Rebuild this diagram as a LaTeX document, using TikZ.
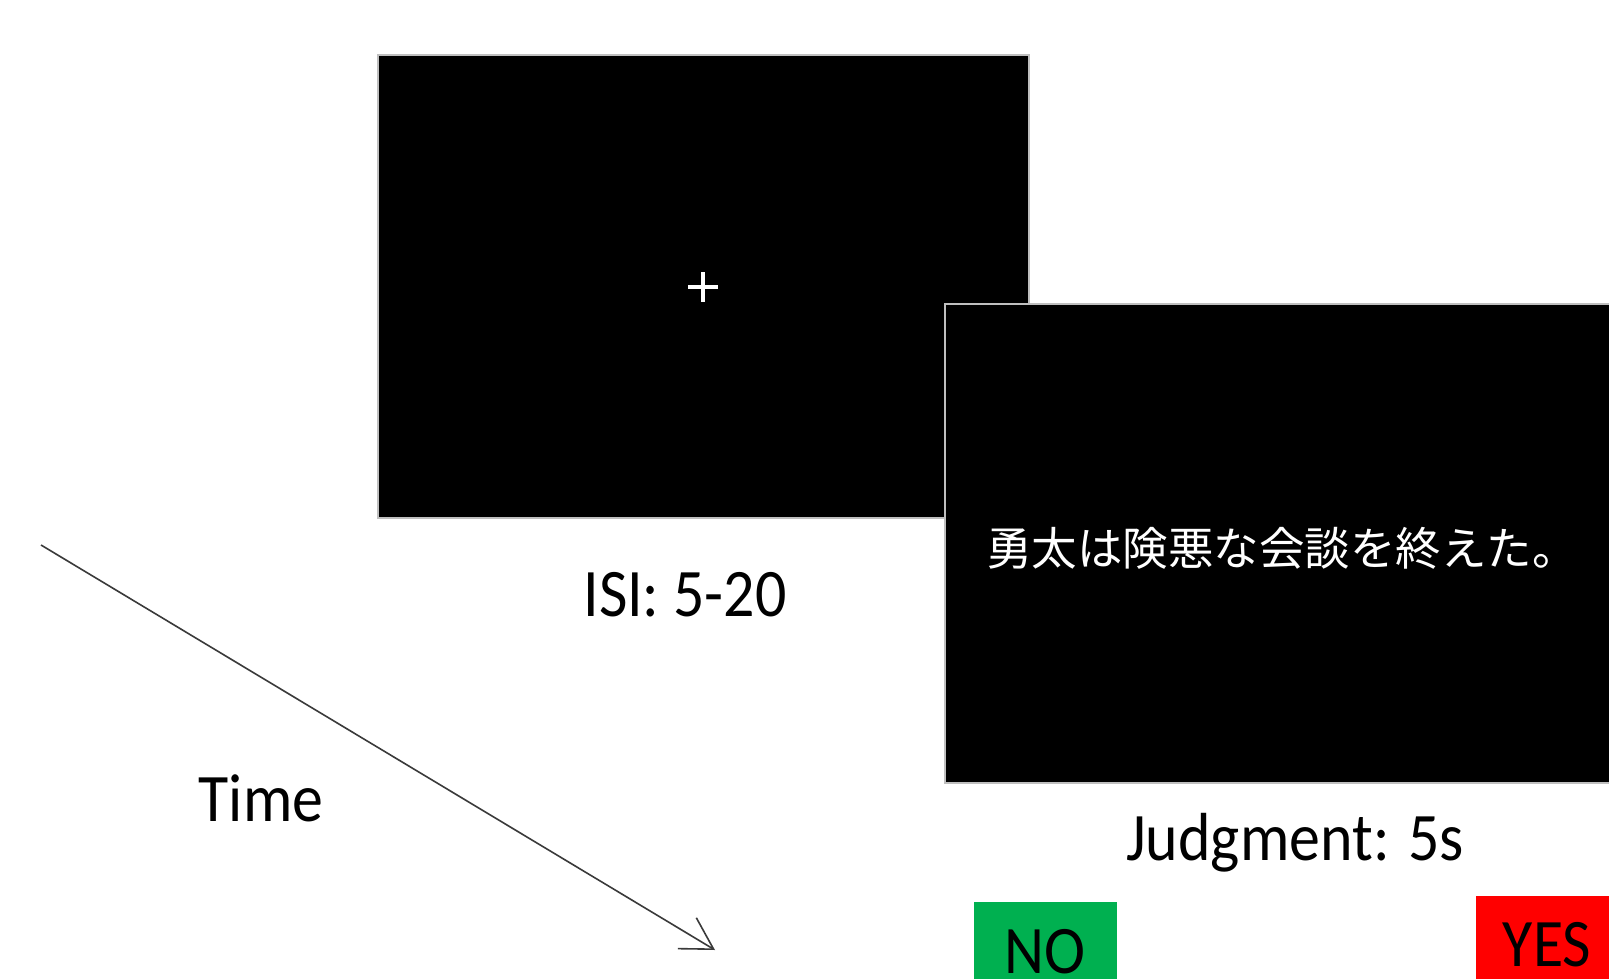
\documentclass[tikz,border=0pt]{standalone}
\usepackage{graphicx}
\usepackage{fontspec}
\setmainfont{Carlito}
\newfontfamily\jpfont{Noto Sans CJK JP}
\usetikzlibrary{arrows.meta}
\definecolor{nogreen}{HTML}{00B050}
\definecolor{yesred}{HTML}{FF0000}
\definecolor{framegray}{HTML}{BFBFBF}
\definecolor{arrowgray}{HTML}{3A3A3A}
\begin{document}
\begin{tikzpicture}[x=1pt,y=-1pt,
  screen/.style={draw=framegray, line width=1.5pt, fill=black, inner sep=0pt, outer sep=0pt},
  lbl/.style={anchor=base, inner sep=0pt, font=\fontsize{68}{72}\selectfont},
  btn/.style={inner sep=0pt, outer sep=0pt, draw=none},
  timearrow/.style={draw=arrowgray, line width=1.6pt, -{Straight Barb[length=31pt, width=36pt, line width=1.6pt]}}
]
\useasboundingbox (0,0) rectangle (1609,979);
\clip (0,0) rectangle (1609,979);
\fill[white] (0,0) rectangle (1609,979);

% fixation screen
\node[screen, minimum width=651pt, minimum height=463pt] (isi) at (703.5,286.5) {};
\node[inner sep=0pt] (fix) at (703,287) {};
\draw[white, line width=4pt] (fix.center) +(-15,0) -- +(15,0);
\draw[white, line width=4pt] (fix.center) +(0,-15) -- +(0,15);

% judgment screen
\node[screen, minimum width=720pt, minimum height=479pt] (judge) at (1305,543.5) {};
\node[inner sep=0pt, text=white, font=\jpfont\fontsize{45.5}{50}\selectfont] (sent) at (1282,548) {勇太は険悪な会談を終えた。};

% labels
\node[lbl] (isilbl) at (685,616) {\scalebox{0.91}[1]{ISI: 5-20}};
\node[lbl] (judgelbl) at (1295,860) {\scalebox{0.91}[1]{Judgment: 5s}};
\node[lbl] (timelbl) at (261,821) {\scalebox{0.91}[1]{Time}};

% response buttons
\node[btn, fill=nogreen, minimum width=143pt, minimum height=90pt, anchor=north west] (nobox) at (974,902) {};
\node[btn, fill=yesred, minimum width=170pt, minimum height=95pt, anchor=north west] (yesbox) at (1476,896) {};
\node[lbl] (notxt) at (1045,973) {\scalebox{0.91}[1]{NO}};
\node[lbl] (yestxt) at (1547,966) {\scalebox{0.91}[1]{YES}};

% time arrow
\coordinate (tstart) at (41,545);
\coordinate (tend) at (715,950);
\draw[timearrow] (tstart) -- (tend);
\end{tikzpicture}
\end{document}
